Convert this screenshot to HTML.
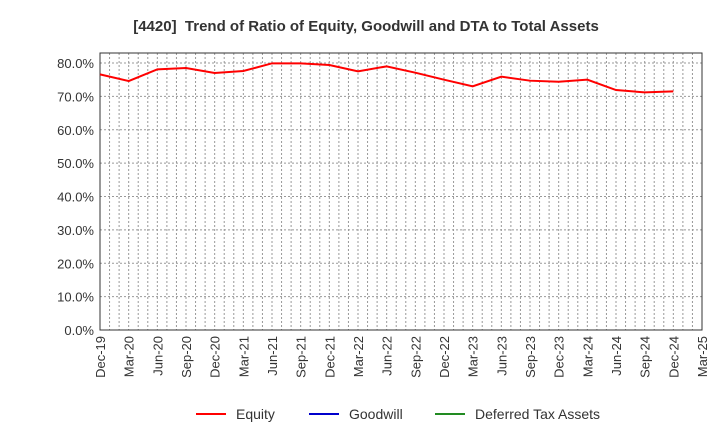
<!DOCTYPE html>
<html><head><meta charset="utf-8"><style>
body{margin:0;background:#fff;}
svg text{font-family:"Liberation Sans",sans-serif;}
</style></head><body>
<svg id="chart" width="720" height="440" xmlns="http://www.w3.org/2000/svg">
<text x="366" y="31" text-anchor="middle" font-size="15" font-weight="bold" fill="#333">[4420]&#160; Trend of Ratio of Equity, Goodwill and DTA to Total Assets</text>
<g id="grid"></g><g id="axes"></g><g id="series"></g>
<g>
<line x1="196" y1="414" x2="226" y2="414" stroke="#ff0000" stroke-width="2"/><text x="236" y="419" font-size="14" fill="#333">Equity</text>
<line x1="309" y1="414" x2="339" y2="414" stroke="#0000cc" stroke-width="2"/><text x="349" y="419" font-size="14" fill="#333">Goodwill</text>
<line x1="435" y1="414" x2="465" y2="414" stroke="#228b22" stroke-width="2"/><text x="475" y="419" font-size="14" fill="#333">Deferred Tax Assets</text>
</g>
</svg>
<script>
const categories=["Dec-19","Mar-20","Jun-20","Sep-20","Dec-20","Mar-21","Jun-21","Sep-21","Dec-21","Mar-22","Jun-22","Sep-22","Dec-22","Mar-23","Jun-23","Sep-23","Dec-23","Mar-24","Jun-24","Sep-24","Dec-24","Mar-25"];
const equity=[76.6,74.6,78.1,78.5,77.0,77.6,79.9,79.9,79.4,77.5,79.0,77.1,75.0,73.0,75.9,74.7,74.4,75.0,71.9,71.2,71.5];
const yTicks=[0,10,20,30,40,50,60,70,80];
const L=100,R=702,T=53,B=330;
const x=i=>L+i*(R-L)/(categories.length-1);
const y=v=>B-v*(B-63)/80;
const ns="http://www.w3.org/2000/svg";
function mk(tag,attrs,parent){const e=document.createElementNS(ns,tag);for(const k in attrs)e.setAttribute(k,attrs[k]);document.getElementById(parent).appendChild(e);return e;}
for(let m=1;m<(categories.length-1)*3;m++){
 const xx=L+m*(R-L)/((categories.length-1)*3);
 const g=mk('line',{x1:xx,x2:xx,y1:T,y2:B,stroke:'#999','stroke-dasharray':'2,2','stroke-width':1},'grid');
 
 
}
yTicks.forEach(v=>{
 const g=mk('line',{x1:L,x2:R,y1:y(v),y2:y(v),stroke:'#999','stroke-dasharray':'2,2','stroke-width':1},'grid');
 
 
 const t=mk('text',{x:L-6,y:y(v)+5,'text-anchor':'end','font-size':'13',fill:'#333'},'axes');
 t.textContent=v.toFixed(1)+'%';
 
 
});
const fr=mk('rect',{x:L,y:T,width:R-L,height:B-T,fill:'none',stroke:'#333','stroke-width':1},'axes');


categories.forEach((c,i)=>{
 const t=mk('text',{transform:`translate(${x(i)+5},${B+6}) rotate(-90)`,'text-anchor':'end','font-size':'13',fill:'#333'},'axes');
 t.textContent=c;
 
 
});
const p=mk('polyline',{points:equity.map((v,i)=>x(i)+','+y(v)).join(' '),fill:'none',stroke:'#ff0000','stroke-width':2},'series');


</script>
</body></html>
